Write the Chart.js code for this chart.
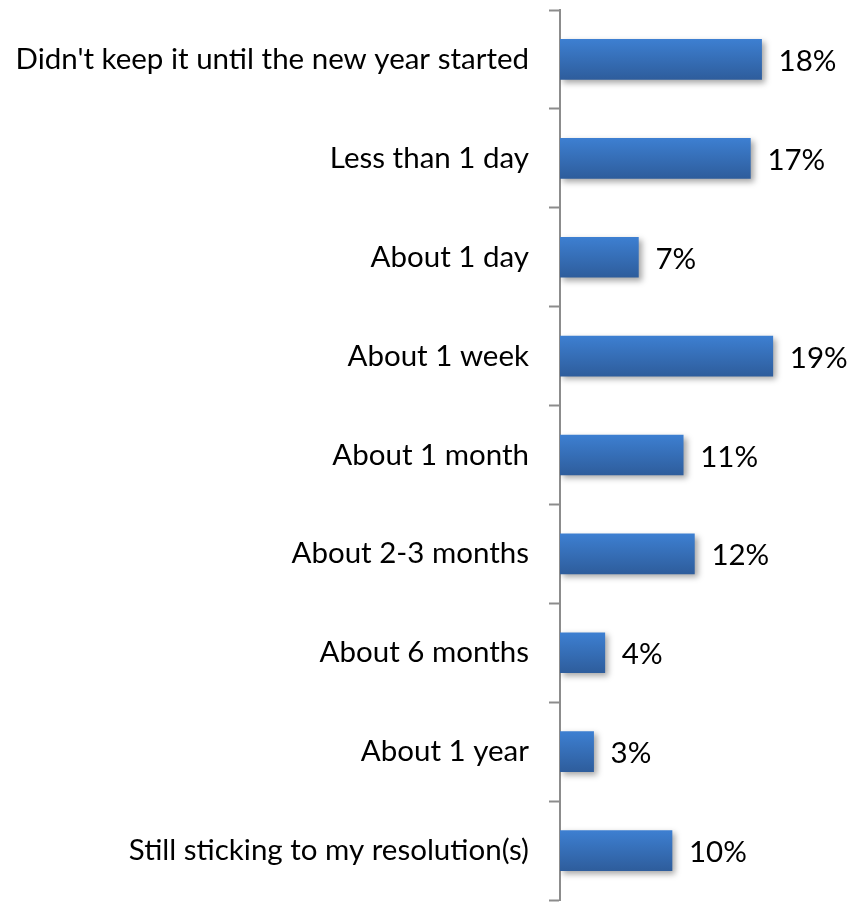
<!DOCTYPE html>
<html>
<head>
<meta charset="utf-8">
<script src="https://cdn.jsdelivr.net/npm/chart.js@4"></script>
<style>
  body { margin: 0; background: #fff; }
  #wrap { width: 848px; height: 904px; }
</style>
</head>
<body>
<div id="wrap"><canvas id="myChart" width="848" height="904"></canvas></div>
<script>
const categories = [
    "Didn't keep it until the new year started",
    'Less than 1 day',
    'About 1 day',
    'About 1 week',
    'About 1 month',
    'About 2-3 months',
    'About 6 months',
    'About 1 year',
    'Still sticking to my resolution(s)'
]
const percents = [18, 17, 7, 19, 11, 12, 4, 3, 10]

const labelFont = { family: 'Lato', size: 29.5 }

// vertical gradient per bar, built from the y scale position
const barFill = (context) => {
    const chart = context.chart
    const y = chart.scales.y
    if (!y || context.dataIndex === undefined) return '#3572c0'
    const center = y.getPixelForValue(context.dataIndex)
    if (!isFinite(center)) return '#3572c0'
    const g = chart.ctx.createLinearGradient(0, center - 20, 0, center + 20)
    g.addColorStop(0, '#3d7fd1')
    g.addColorStop(1, '#2e5d9c')
    return g
}

const barShadow = {
    id: 'barShadow',
    beforeDatasetsDraw(chart) {
        const ctx = chart.ctx
        ctx.save()
        ctx.shadowColor = 'rgba(0,0,0,0.35)'
        ctx.shadowBlur = 6
        ctx.shadowOffsetX = 3
        ctx.shadowOffsetY = 3
    },
    afterDatasetsDraw(chart) {
        chart.ctx.restore()
    }
}

const valueLabels = {
    id: 'valueLabels',
    afterDatasetsDraw(chart) {
        const ctx = chart.ctx
        const meta = chart.getDatasetMeta(0)
        ctx.save()
        ctx.font = labelFont.size + 'px ' + labelFont.family
        ctx.fillStyle = '#000'
        ctx.textAlign = 'left'
        ctx.textBaseline = 'middle'
        meta.data.forEach((bar, i) => {
            ctx.fillText(percents[i] + '%', bar.x + 17, bar.y + 2)
        })
        ctx.restore()
    }
}

let cfg = {
    type: 'bar',
    data: {
        labels: categories,
        datasets: [
            {
                data: percents,
                backgroundColor: barFill,
                borderWidth: 0,
                barThickness: 40
            }
        ]
    },
    options: {
        indexAxis: 'y',
        responsive: false,
        animation: false,
        layout: { padding: { top: 10, bottom: 4, right: 64, left: 0 } },
        plugins: {
            legend: { display: false },
            tooltip: { enabled: false }
        },
        scales: {
            x: {
                display: false,
                min: 0,
                max: 20
            },
            y: {
                afterFit(scale) {
                    scale.width = 560
                    scale.paddingTop = 0
                    scale.paddingBottom = 0
                },
                grid: {
                    drawOnChartArea: false,
                    tickLength: 11,
                    tickWidth: 2,
                    tickColor: '#8c8c8c',
                    offset: true
                },
                border: { color: '#8c8c8c', width: 2 },
                ticks: {
                    color: '#000',
                    font: labelFont,
                    padding: 20
                }
            }
        }
    },
    plugins: [barShadow, valueLabels]
}

new Chart(document.getElementById('myChart'), cfg)
</script>
</body>
</html>
